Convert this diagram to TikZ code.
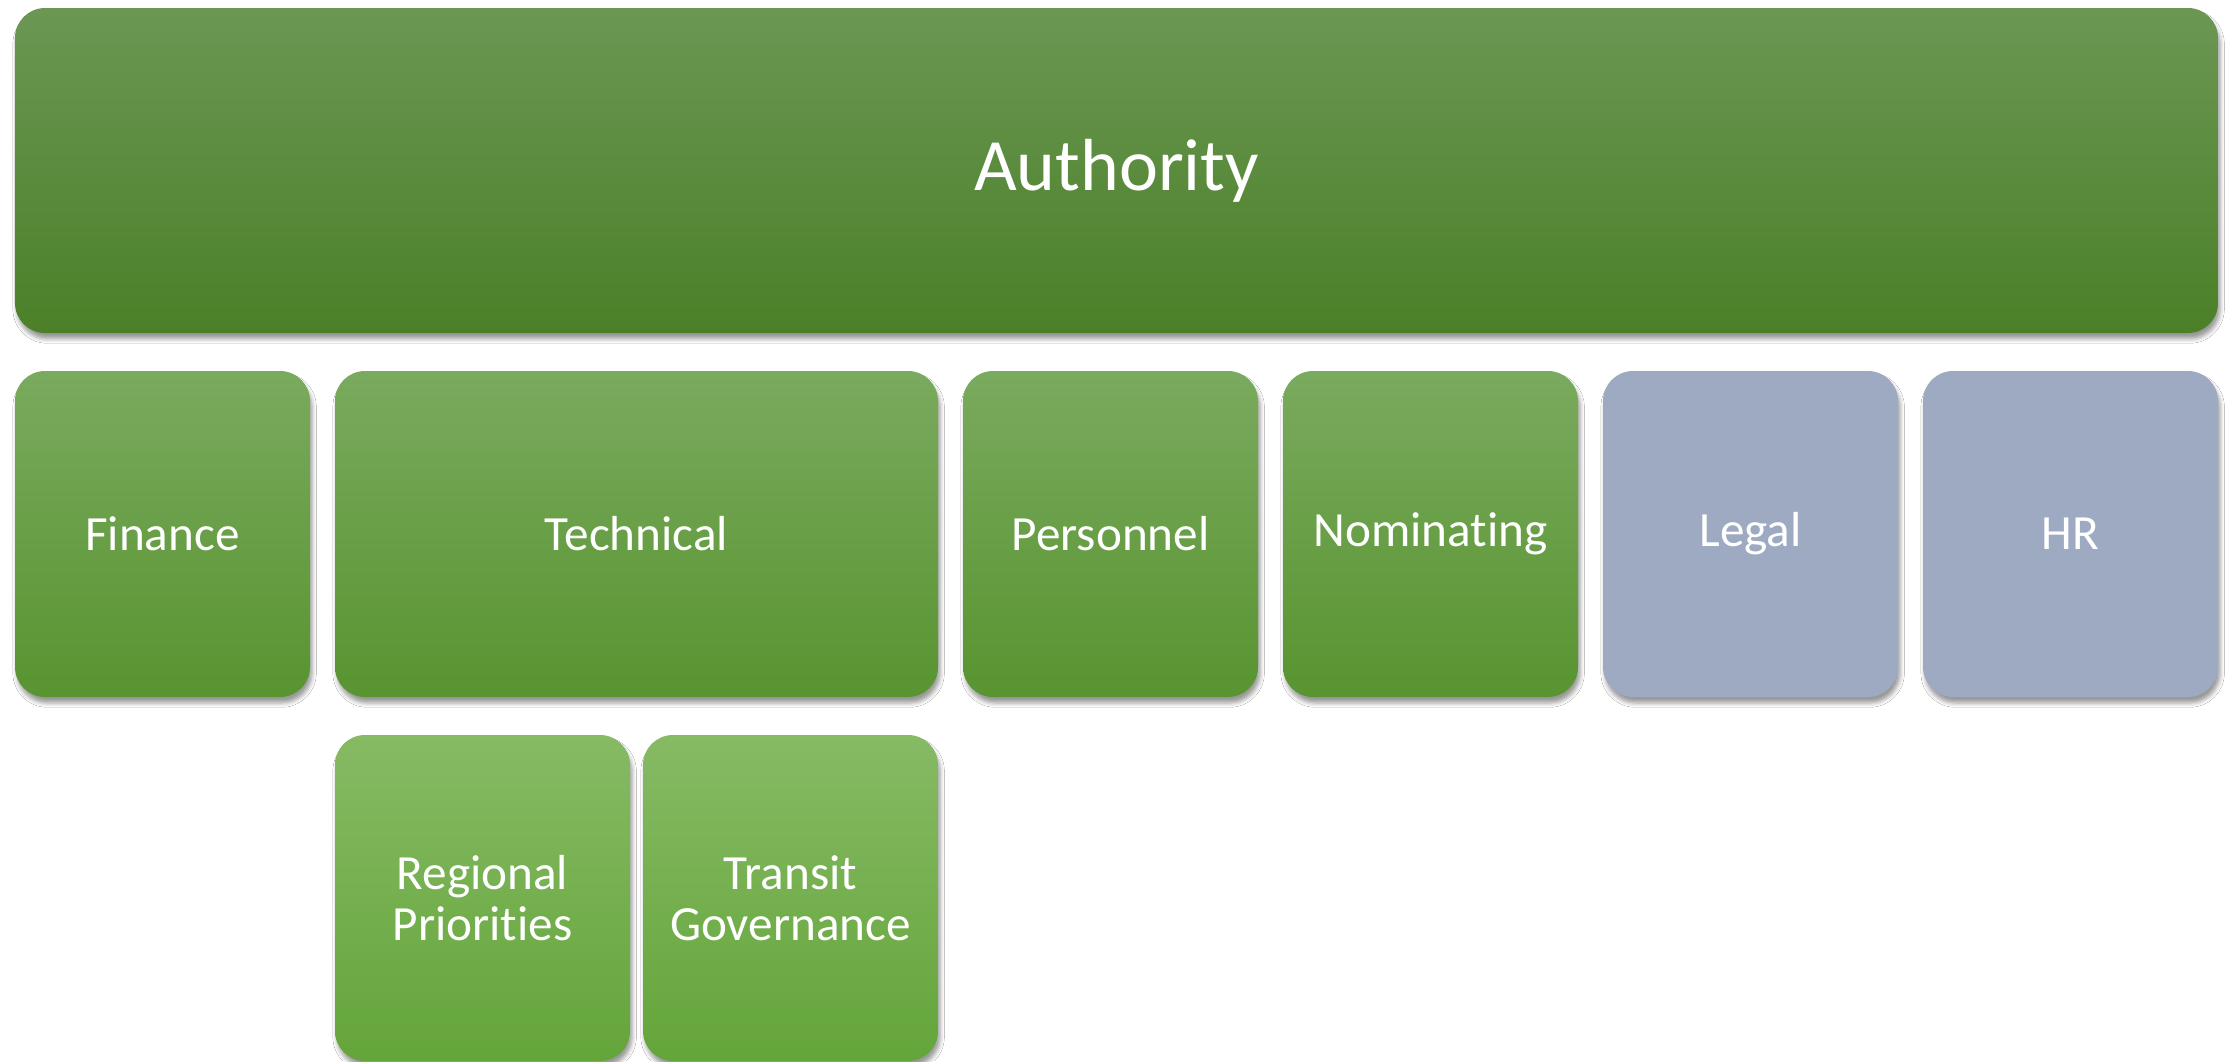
\documentclass[tikz,border=0pt]{standalone}
\usepackage{fontspec}
\setmainfont{Carlito}[Ligatures=NoCommon]
\usetikzlibrary{shadows.blur}
\definecolor{authTop}{RGB}{107,151,83}
\definecolor{authBot}{RGB}{75,128,40}
\definecolor{rowTop}{RGB}{122,170,94}
\definecolor{rowBot}{RGB}{88,148,48}
\definecolor{subTop}{RGB}{134,186,100}
\definecolor{subBot}{RGB}{100,165,58}
\definecolor{grayBlue}{RGB}{157,170,193}
\tikzset{
  box/.style={rectangle, rounded corners=0.3cm, inner sep=0pt, text=white, align=center,
    blur shadow={shadow xshift=0.6pt, shadow yshift=-1.7pt, shadow blur radius=1.2pt, shadow opacity=40}},
  authbox/.style={box, top color=authTop, bottom color=authBot, font=\fontsize{21}{25}\selectfont},
  rowbox/.style={box, top color=rowTop, bottom color=rowBot, font=\fontsize{14}{14.5}\selectfont},
  subbox/.style={box, top color=subTop, bottom color=subBot, font=\fontsize{14}{14.5}\selectfont},
  graybox/.style={box, fill=grayBlue, font=\fontsize{14}{14.5}\selectfont},
}
\begin{document}
\begin{tikzpicture}
\useasboundingbox[fill=white] (0,0) rectangle (22.36,-10.61);
\node[authbox, minimum width=22.03cm, minimum height=3.25cm] (auth) at (11.165,-1.705) {Authority};
\node[rowbox, minimum width=2.95cm, minimum height=3.26cm] (fin) at (1.625,-5.34) {Finance};
\node[rowbox, minimum width=6.03cm, minimum height=3.26cm] (tech) at (6.365,-5.34) {Technical};
\node[rowbox, minimum width=2.95cm, minimum height=3.26cm] (pers) at (11.105,-5.34) {Personnel};
\node[rowbox, minimum width=2.95cm, minimum height=3.26cm] (nom) at (14.305,-5.34) {Nominating};
\node[graybox, minimum width=2.95cm, minimum height=3.26cm] (legal) at (17.505,-5.34) {Legal};
\node[graybox, minimum width=2.95cm, minimum height=3.26cm] (hr) at (20.705,-5.34) {HR};
\node[subbox, minimum width=2.95cm, minimum height=3.26cm] (reg) at (4.825,-8.98) {Regional\\Priorities};
\node[subbox, minimum width=2.95cm, minimum height=3.26cm] (transit) at (7.905,-8.98) {Transit\\Governance};
\end{tikzpicture}
\end{document}
